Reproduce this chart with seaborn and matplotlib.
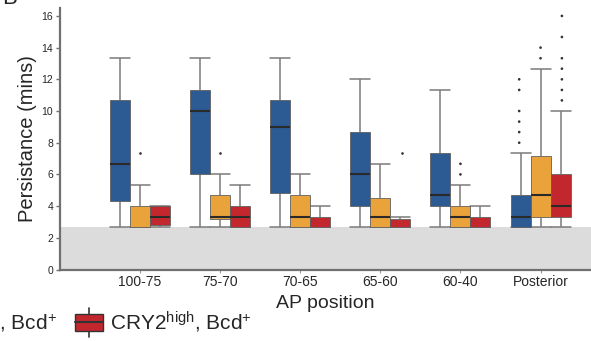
import numpy as np
import pandas as pd
import matplotlib
matplotlib.use("Agg")
import matplotlib.pyplot as plt
from matplotlib.patches import Rectangle
from matplotlib.lines import Line2D
from matplotlib.legend_handler import HandlerBase
import seaborn as sns

# ---------------- data ----------------
categories = ["100-75", "75-70", "70-65", "65-60", "60-40", "Posterior"]
groups = ["CRY2$^{\\mathrm{none}}$, Bcd$^{+}$",
          "CRY2$^{\\mathrm{low}}$, Bcd$^{+}$",
          "CRY2$^{\\mathrm{high}}$, Bcd$^{+}$"]
colors = ["#2C5A93", "#E9A33A", "#C2272E"]

# five-number summaries per group (whisker low, Q1, median, Q3, whisker high)
blue_lo  = [2.67, 2.67, 2.67, 2.67, 2.67, 2.67]
blue_q1  = [4.33, 6.00, 4.83, 4.00, 4.00, 2.67]
blue_med = [6.67, 10.0, 9.00, 6.00, 4.67, 3.33]
blue_q3  = [10.67, 11.33, 10.67, 8.67, 7.33, 4.67]
blue_hi  = [13.33, 13.33, 13.33, 12.0, 11.33, 7.33]

yel_lo  = [2.67, 2.67, 2.67, 2.67, 2.67, 2.67]
yel_q1  = [2.67, 3.17, 2.67, 2.67, 2.67, 3.33]
yel_med = [2.67, 3.33, 3.33, 3.33, 3.33, 4.67]
yel_q3  = [4.00, 4.67, 4.67, 4.50, 4.00, 7.17]
yel_hi  = [5.33, 6.00, 6.00, 6.67, 5.33, 12.67]

red_lo  = [2.67, 2.67, 2.67, 2.67, 2.67, 2.67]
red_q1  = [2.83, 2.67, 2.67, 2.67, 2.67, 3.33]
red_med = [3.33, 3.33, 2.67, 2.67, 2.67, 4.00]
red_q3  = [4.00, 4.00, 3.33, 3.17, 3.33, 6.00]
red_hi  = [4.00, 5.33, 4.00, 3.33, 4.00, 10.0]

# outliers
blue_out = {"Posterior": [8.0, 8.67, 9.33, 10.0, 11.33, 12.0]}
yel_out = {"100-75": [7.33], "75-70": [7.33], "60-40": [6.0, 6.67],
           "Posterior": [13.33, 14.0]}
red_out = {"65-60": [7.33],
           "Posterior": [10.67, 11.33, 12.0, 12.67, 13.33, 14.67, 16.0]}

threshold = 2.67  # grey shaded region (below detection)

# ---------------- build tables ----------------
summ = [(blue_lo, blue_q1, blue_med, blue_q3, blue_hi),
        (yel_lo, yel_q1, yel_med, yel_q3, yel_hi),
        (red_lo, red_q1, red_med, red_q3, red_hi)]
rows = []
for g, s in zip(groups, summ):
    for i, c in enumerate(categories):
        for arr in s:
            rows.append({"pos": c, "grp": g, "val": arr[i]})
df = pd.DataFrame(rows)

orow = []
for g, od in zip(groups, [blue_out, yel_out, red_out]):
    for c, vals in od.items():
        for v in vals:
            orow.append({"pos": c, "grp": g, "val": v})
dfo = pd.DataFrame(orow)

# ---------------- style ----------------
sns.set_theme(style="white")
plt.rcParams["font.family"] = ["Liberation Sans", "DejaVu Sans"]
plt.rcParams["mathtext.fontset"] = "custom"
plt.rcParams["mathtext.rm"] = "Liberation Sans"
plt.rcParams["mathtext.it"] = "Liberation Sans:italic"

fig = plt.figure(figsize=(5.91, 3.41), dpi=100)
ax = fig.add_axes([60 / 591, 1 - 269.5 / 341, 1 - 60 / 591, (269.5 - 8) / 341])

ax.axhspan(0, threshold, color="#DCDCDC", zorder=0, lw=0)

median_color = "#2a2a2a"
sns.boxplot(data=df, x="pos", y="val", hue="grp", order=categories,
            hue_order=groups, palette=colors, saturation=1, width=0.75,
            gap=0, whis=(0, 100), fliersize=0, linewidth=1.0,
            linecolor="#4a4a4a", legend=False, ax=ax, capwidths=0.25,
            boxprops=dict(linewidth=0.6, edgecolor="#606060", zorder=3),
            medianprops=dict(color=median_color, linewidth=1.5, zorder=4),
            whiskerprops=dict(color="#7a7a7a", linewidth=1.1, zorder=2),
            capprops=dict(color="#7a7a7a", linewidth=1.1, zorder=2))

# medians that sit on the detection floor are not visible in the original
for ln in ax.lines:
    y = np.asarray(ln.get_ydata(), dtype=float)
    if (matplotlib.colors.to_hex(ln.get_color()) == median_color
            and y.size and np.allclose(y, threshold)):
        ln.set_visible(False)

sns.stripplot(data=dfo, x="pos", y="val", hue="grp", order=categories,
              hue_order=groups, palette=["#333333"] * 3, dodge=True,
              jitter=False, size=1.9, legend=False, ax=ax, zorder=5)

ax.set_xlim(-1.0, 5.63)
ax.set_ylim(0, 16.5)
ax.set_yticks([0, 2, 4, 6, 8, 10, 12, 14, 16])
for side in ["top", "right"]:
    ax.spines[side].set_visible(False)
for side in ["left", "bottom"]:
    ax.spines[side].set_color("#707070")
    ax.spines[side].set_linewidth(1.6)
ax.tick_params(axis="y", direction="out", length=3, width=1, color="#707070",
               labelsize=7.5, pad=2, left=True)
ax.tick_params(axis="x", direction="out", length=2, width=0.8, color="#999999",
               labelsize=10, pad=2, bottom=True)
ax.set_xlabel("AP position", fontsize=14, labelpad=4)
ax.set_ylabel("Persistance (mins)", fontsize=14.5, labelpad=3)

# panel letter (mostly cropped)
fig.text(2 / 591, 1 - 4 / 341, "B", fontsize=16, va="baseline", ha="left")


# ---------------- legend with box-shaped handles ----------------
class BoxHandler(HandlerBase):
    def create_artists(self, legend, orig_handle, xdescent, ydescent,
                       width, height, fontsize, trans):
        fc = orig_handle.get_facecolor()
        x0, y0 = -xdescent, -ydescent
        bh = height * 0.95
        by = y0 + (height - bh) / 2
        cx = x0 + width / 2
        arts = [
            Line2D([cx, cx], [by - 4, by + bh + 4], color="#333333", lw=1.2,
                   transform=trans),
            Rectangle((x0, by), width, bh, facecolor=fc, edgecolor="#333333",
                      lw=1.0, transform=trans),
            Line2D([x0, x0 + width], [by + bh / 2, by + bh / 2],
                   color="#333333", lw=1.5, transform=trans),
        ]
        return arts


handles = [Rectangle((0, 0), 1, 1, facecolor=c) for c in colors]
fig.legend(handles, groups, handler_map={Rectangle: BoxHandler()},
           loc="center right", bbox_to_anchor=(252 / 591, 1 - 322 / 341),
           ncol=3, frameon=False, fontsize=15, handlelength=1.35,
           handleheight=1.0, handletextpad=0.34, columnspacing=0.86,
           borderpad=0, borderaxespad=0)

fig.savefig("out.png", dpi=100)
